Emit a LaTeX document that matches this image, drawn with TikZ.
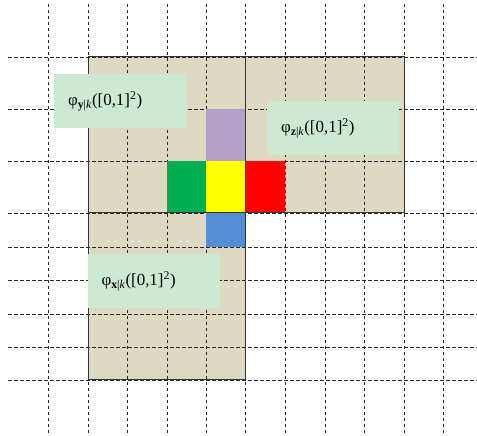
\documentclass[tikz,border=0pt]{standalone}
\usepackage{fontspec}
\setmainfont{Liberation Serif}
\usepackage{tikz}
\definecolor{patchtan}{RGB}{221,217,195}
\definecolor{labgreen}{RGB}{205,232,211}
\definecolor{cellpurple}{RGB}{178,162,199}
\definecolor{cellgreen}{RGB}{0,176,80}
\definecolor{cellyellow}{RGB}{255,255,0}
\definecolor{cellred}{RGB}{255,0,0}
\definecolor{cellblue}{RGB}{85,142,213}
\newcommand{\tmap}[1]{φ\textsubscript{\textbf{#1}|\textit{k}}([0,1]\textsuperscript{2})}

\begin{document}
\begin{tikzpicture}[>=latex]
      \tikzstyle{every node}=[font=\fontsize{17}{19}\selectfont]
      \tikzstyle{gridline}=[dash pattern=on 3.5bp off 2.5bp, line width=0.8bp, black!85]
      \tikzstyle{patch}=[draw=black!80, line width=1bp]
      \tikzstyle{maplabel}=[fill=labgreen, inner xsep=14bp, inner ysep=0bp, text width=104bp, minimum height=54bp, align=left]
      \useasboundingbox (0bp,0bp) rectangle (477bp,436bp);
      %%
  \fill [patchtan] (88bp,223bp) rectangle (404bp,379bp);
  \fill [patchtan] (88bp,56bp) rectangle (245bp,223bp);
  % grid
  \draw [gridline] (8bp,379bp) -- (477bp,379bp);
  \draw [gridline] (8bp,327bp) -- (477bp,327bp);
  \draw [gridline] (8bp,275bp) -- (477bp,275bp);
  \draw [gridline] (8bp,223bp) -- (477bp,223bp);
  \draw [gridline] (8bp,189bp) -- (477bp,189bp);
  \draw [gridline] (8bp,156bp) -- (477bp,156bp);
  \draw [gridline] (8bp,122bp) -- (477bp,122bp);
  \draw [gridline] (8bp,89bp) -- (477bp,89bp);
  \draw [gridline] (8bp,56bp) -- (477bp,56bp);
  \draw [gridline] (48bp,432bp) -- (48bp,0bp);
  \draw [gridline] (88bp,432bp) -- (88bp,0bp);
  \draw [gridline] (127bp,432bp) -- (127bp,0bp);
  \draw [gridline] (167bp,432bp) -- (167bp,0bp);
  \draw [gridline] (206bp,432bp) -- (206bp,0bp);
  \draw [gridline] (245bp,432bp) -- (245bp,0bp);
  \draw [gridline] (285bp,432bp) -- (285bp,0bp);
  \draw [gridline] (325bp,432bp) -- (325bp,0bp);
  \draw [gridline] (364bp,432bp) -- (364bp,0bp);
  \draw [gridline] (404bp,432bp) -- (404bp,0bp);
  \draw [gridline] (443bp,432bp) -- (443bp,0bp);
  % cells
  \fill [cellpurple] (206bp,275bp) rectangle (245bp,327bp);
  \fill [cellgreen] (167bp,223bp) rectangle (206bp,275bp);
  \fill [cellyellow] (206bp,223bp) rectangle (245bp,275bp);
  \fill [cellred] (245bp,223bp) rectangle (285bp,275bp);
  \fill [cellblue] (206bp,189bp) rectangle (245bp,223bp);
  % patches
  \draw [patch] (88bp,223bp) rectangle (245bp,379bp);
  \draw [patch] (245bp,223bp) rectangle (404bp,379bp);
  \draw [patch] (88bp,56bp) rectangle (245bp,223bp);
  % labels
  \node (map_y) at (120bp,335bp) [maplabel] {\tmap{y}};
  \node (map_z) at (333bp,308bp) [maplabel] {\tmap{z}};
  \node (map_x) at (153.5bp,155bp) [maplabel] {\tmap{x}};
%

    \end{tikzpicture}
\end{document}
